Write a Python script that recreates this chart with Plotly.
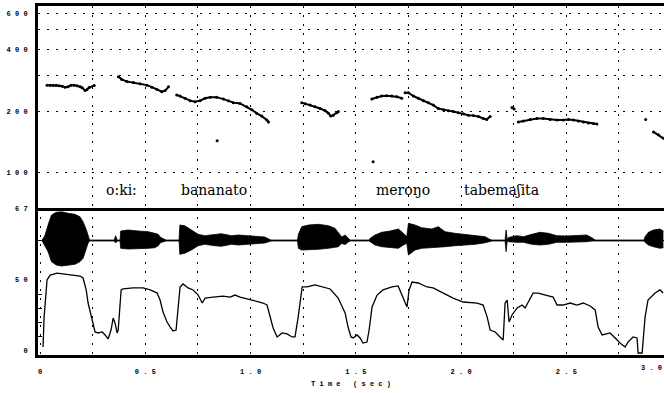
import plotly.graph_objects as go

# ---- Pitch track (F0, Hz) : voiced stretches separated by None ----
pitch_time = [
    0.033, 0.048, 0.062, 0.076, 0.090, 0.105, 0.119, 0.133, 0.147, 0.162,
    0.176, 0.190, 0.200, 0.214, 0.223, 0.233, 0.257, None,
    0.372, 0.388, 0.412, 0.443, 0.475, 0.507, 0.531, 0.554, 0.578, 0.594,
    0.610, None,
    0.649, 0.665, 0.689, 0.713, 0.736, 0.760, 0.784, 0.808, 0.839, 0.871,
    0.895, 0.918, 0.950, 0.982, 1.006, 1.029, 1.053, 1.077, 1.085, None,
    1.243, 1.259, 1.283, 1.306, 1.330, 1.354, 1.370, 1.381, 1.393, 1.410,
    1.417, None,
    1.576, 1.600, 1.623, 1.647, 1.671, 1.695, 1.718, None,
    1.734, 1.750, 1.773, 1.797, 1.821, 1.845, 1.868, 1.892, 1.916, 1.940,
    1.963, 1.987, 2.011, 2.035, 2.058, 2.082, 2.106, 2.122, 2.138, None,
    2.242, 2.252, None,
    2.272, 2.296, 2.328, 2.360, 2.391, 2.423, 2.455, 2.486, 2.510, 2.534,
    2.557, 2.581, 2.605, 2.629, 2.645, None,
    2.914, 2.937, 2.961,
]
pitch_hz = [
    268, 268, 268, 268, 266, 265, 262, 263, 268, 268,
    266, 263, 260, 252, 255, 261, 267, None,
    295, 286, 279, 276, 272, 268, 262, 256, 249, 252,
    263, None,
    240, 237, 231, 225, 222, 225, 231, 234, 234, 229,
    225, 220, 218, 210, 203, 195, 189, 181, 177, None,
    220, 217, 214, 210, 206, 201, 195, 189, 191, 196,
    199, None,
    229, 234, 237, 238, 237, 235, 231, None,
    246, 246, 237, 231, 225, 220, 214, 206, 203, 201,
    199, 196, 194, 191, 190, 188, 184, 182, 188, None,
    208, 205, None,
    177, 179, 182, 184, 184, 182, 181, 181, 182, 181,
    179, 177, 175, 174, 173, None,
    158, 153, 147,
]
# isolated pitch estimates
stray_time = [0.841, 1.582, 2.877]
stray_hz = [143, 113, 182]

# ---- Segment labels ----
word_labels = ["o:ki:", "bananato", "meroŋo", "tabemaʃita"]
word_times = [0.385, 0.827, 1.725, 2.19]

# ---- Waveform envelope (normalised amplitude) ----
wave_time = [
    0.010, 0.022, 0.038, 0.054, 0.077, 0.101, 0.133, 0.165, 0.189, 0.204,
    0.220, 0.228, 0.235, 0.352, 0.359, 0.366, 0.380, 0.383, 0.418, 0.466,
    0.513, 0.545, 0.561, 0.573, 0.592, 0.599, 0.660, 0.664, 0.687, 0.719,
    0.751, 0.782, 0.830, 0.861, 0.909, 0.941, 1.004, 1.067, 1.091, 1.097,
    1.223, 1.227, 1.243, 1.275, 1.322, 1.370, 1.401, 1.417, 1.433, 1.449,
    1.465, 1.473, 1.563, 1.568, 1.591, 1.623, 1.663, 1.702, 1.726, 1.742,
    1.750, 1.781, 1.813, 1.861, 1.892, 1.924, 1.971, 2.019, 2.067, 2.114,
    2.138, 2.147, 2.209, 2.214, 2.219, 2.225, 2.265, 2.296, 2.336, 2.375,
    2.415, 2.455, 2.502, 2.550, 2.597, 2.621, 2.637, 2.869, 2.874, 2.890,
    2.914, 2.945, 2.961,
]
wave_upper = [
    0.017, 0.155, 0.534, 0.879, 0.972, 0.993, 0.938, 0.903, 0.821, 0.648,
    0.362, 0.131, 0.017, 0.017, 0.166, 0.017, 0.017, 0.328, 0.362, 0.328,
    0.303, 0.248, 0.214, 0.103, 0.034, 0.017, 0.017, 0.534, 0.510, 0.362,
    0.214, 0.166, 0.214, 0.234, 0.166, 0.190, 0.155, 0.121, 0.034, 0.017,
    0.017, 0.214, 0.476, 0.534, 0.559, 0.510, 0.421, 0.248, 0.121, 0.190,
    0.052, 0.017, 0.017, 0.076, 0.190, 0.283, 0.328, 0.397, 0.248, 0.131,
    0.593, 0.534, 0.441, 0.397, 0.476, 0.303, 0.248, 0.214, 0.190, 0.131,
    0.034, 0.017, 0.017, 0.362, 0.017, 0.103, 0.166, 0.131, 0.214, 0.283,
    0.248, 0.166, 0.155, 0.166, 0.190, 0.097, 0.017, 0.017, 0.131, 0.283,
    0.362, 0.397, 0.328,
]
wave_lower = [
    -0.017, -0.155, -0.386, -0.731, -0.845, -0.879, -0.845, -0.821, -0.731, -0.614,
    -0.269, -0.086, -0.017, -0.017, -0.086, -0.017, -0.017, -0.269, -0.293, -0.293,
    -0.269, -0.248, -0.179, -0.069, -0.034, -0.017, -0.017, -0.476, -0.441, -0.328,
    -0.179, -0.131, -0.179, -0.200, -0.131, -0.155, -0.121, -0.086, -0.034, -0.017,
    -0.017, -0.269, -0.328, -0.328, -0.303, -0.269, -0.248, -0.214, -0.103, -0.138,
    -0.052, -0.017, -0.017, -0.041, -0.155, -0.214, -0.248, -0.269, -0.155, -0.097,
    -0.500, -0.328, -0.269, -0.248, -0.248, -0.214, -0.179, -0.155, -0.131, -0.076,
    -0.034, -0.017, -0.017, -0.386, -0.017, -0.041, -0.062, -0.062, -0.131, -0.155,
    -0.131, -0.062, -0.062, -0.062, -0.041, -0.017, -0.017, -0.017, -0.062, -0.155,
    -0.214, -0.269, -0.248,
]

# ---- Intensity contour (dB) ----
int_time = [
    0.014, 0.019, 0.033, 0.048, 0.081, 0.128, 0.190, 0.204, 0.219, 0.228,
    0.247, 0.261, 0.276, 0.295, 0.309, 0.323, 0.337, 0.347, 0.356, 0.366,
    0.371, 0.385, 0.394, 0.442, 0.489, 0.523, 0.556, 0.570, 0.584, 0.603,
    0.618, 0.632, 0.646, 0.656, 0.665, 0.679, 0.703, 0.727, 0.751, 0.770,
    0.784, 0.822, 0.869, 0.903, 0.926, 0.950, 0.988, 1.031, 1.059, 1.078,
    1.093, 1.107, 1.126, 1.150, 1.173, 1.197, 1.211, 1.226, 1.245, 1.268,
    1.306, 1.340, 1.378, 1.416, 1.449, 1.463, 1.477, 1.487, 1.506, 1.520,
    1.534, 1.553, 1.563, 1.577, 1.601, 1.629, 1.672, 1.701, 1.720, 1.734,
    1.743, 1.753, 1.767, 1.796, 1.838, 1.867, 1.914, 1.962, 2.010, 2.076,
    2.105, 2.124, 2.138, 2.162, 2.185, 2.200, 2.209, 2.219, 2.228, 2.242,
    2.266, 2.290, 2.304, 2.318, 2.342, 2.366, 2.409, 2.437, 2.456, 2.485,
    2.518, 2.551, 2.580, 2.613, 2.637, 2.651, 2.670, 2.708, 2.732, 2.755,
    2.779, 2.793, 2.817, 2.836, 2.841, 2.860, 2.874, 2.888, 2.922, 2.945,
    2.960,
]
int_db = [
    2.8, 23.9, 50.0, 53.5, 54.9, 54.2, 52.8, 51.4, 43.0, 33.8,
    21.8, 13.4, 12.7, 13.4, 11.3, 8.5, 14.8, 23.2, 19.7, 12.7,
    14.8, 43.0, 43.7, 44.4, 44.4, 43.0, 40.8, 35.9, 27.5, 20.4,
    16.9, 14.1, 14.8, 31.0, 45.1, 47.2, 44.4, 43.0, 39.4, 33.8,
    37.3, 38.0, 38.7, 38.0, 39.4, 38.0, 36.6, 35.2, 33.8, 32.4,
    23.9, 16.2, 9.9, 12.7, 12.0, 9.9, 9.9, 23.9, 45.1, 45.1,
    46.5, 45.1, 43.7, 37.3, 26.8, 16.9, 9.9, 9.2, 11.3, 9.2,
    5.6, 6.3, 14.8, 31.0, 39.4, 43.0, 45.1, 45.8, 39.4, 33.8,
    31.0, 43.0, 48.6, 47.9, 45.1, 44.4, 40.8, 37.3, 34.5, 33.8,
    32.4, 23.9, 14.8, 13.4, 9.9, 7.7, 33.8, 35.9, 20.4, 25.4,
    30.3, 32.4, 30.3, 33.8, 40.8, 40.8, 39.4, 38.0, 32.4, 32.4,
    33.8, 32.4, 33.8, 31.7, 28.9, 16.9, 11.3, 12.7, 9.2, 5.6,
    2.8, 6.3, 9.9, 9.2, -1.4, -1.4, 23.9, 35.9, 40.8, 43.0,
    40.8,
]

# ---- Axis ticks ----
grid_times = [0.25, 0.5, 0.75, 1.0, 1.25, 1.5, 1.75, 2.0, 2.25, 2.5, 2.75]
time_tickvals = [0, 0.25, 0.5, 0.75, 1.0, 1.25, 1.5, 1.75, 2.0, 2.25, 2.5, 2.75]
time_ticktext = ["0", "", "0 . 5", "", "1 . 0", "", "1 . 5", "", "2 . 0", "",
                 "2 . 5", ""]
hz_tickvals = [100, 200, 300, 400, 500, 600]
hz_ticktext = ["1 0 0", "2 0 0", "", "4 0 0", "", "6 0 0"]
db_tickvals = [0, 50, 100]
db_ticktext = ["0", "5 0", "6 7"]
db_minor = [10, 20, 30, 40]

TIME_RANGE = [-0.010, 2.964]
INK = "black"
tick_font = dict(family="Liberation Mono", size=7, color=INK, weight="bold")
word_font = dict(family="DejaVu Serif", size=14, color=INK)
GRID_DASH = "2px,7px"

fig = go.Figure()

# pitch contour
fig.add_trace(go.Scatter(
    x=pitch_time, y=pitch_hz, mode="lines+markers",
    line=dict(color=INK, width=2), marker=dict(color=INK, size=3),
    connectgaps=False, xaxis="x", yaxis="y", showlegend=False,
))
fig.add_trace(go.Scatter(
    x=stray_time, y=stray_hz, mode="markers",
    marker=dict(color=INK, size=3), xaxis="x", yaxis="y", showlegend=False,
))

# intensity contour
fig.add_trace(go.Scatter(
    x=int_time, y=int_db, mode="lines",
    line=dict(color=INK, width=1.3), xaxis="x2", yaxis="y2", showlegend=False,
))

# waveform envelope (filled), on its own amplitude scale
fig.add_trace(go.Scatter(
    x=wave_time, y=wave_lower, mode="lines",
    line=dict(color=INK, width=0.8), xaxis="x2", yaxis="y3", showlegend=False,
))
fig.add_trace(go.Scatter(
    x=wave_time, y=wave_upper, mode="lines", fill="tonexty", fillcolor=INK,
    line=dict(color=INK, width=0.8), xaxis="x2", yaxis="y3", showlegend=False,
))

# word labels above the waveform
for txt, t in zip(word_labels, word_times):
    fig.add_annotation(
        x=t, y=1.914, xref="x", yref="y", text=txt, showarrow=False,
        font=word_font, xanchor="center", yanchor="middle",
    )

# last time label (3.0 s), right at the edge of the plotted range
fig.add_annotation(
    x=1.0, y=-0.037, xref="paper", yref="paper", text="3 . 0", showarrow=False,
    font=tick_font, xanchor="right", yanchor="middle",
)

split = 0.4212
grid_style = dict(showgrid=True, gridcolor=INK, gridwidth=1.2, griddash=GRID_DASH)

fig.update_layout(
    width=664, height=393,
    margin=dict(l=38, r=0, t=6, b=38),
    paper_bgcolor="white", plot_bgcolor="white",
    xaxis=dict(
        domain=[0, 1], anchor="y", range=TIME_RANGE,
        tickmode="array", tickvals=grid_times, showticklabels=False, ticks="",
        zeroline=False, showline=True, mirror=True, linecolor=INK, linewidth=2.5,
        **grid_style,
    ),
    yaxis=dict(
        domain=[split, 1], anchor="x", type="log", range=[1.826, 2.816],
        tickmode="array", tickvals=hz_tickvals, ticktext=hz_ticktext,
        tickfont=tick_font, ticks="", ticklabelstandoff=6,
        zeroline=False, showline=True, linecolor=INK, linewidth=3,
        **grid_style,
    ),
    xaxis2=dict(
        domain=[0, 1], anchor="y2", range=TIME_RANGE,
        tickmode="array", tickvals=time_tickvals, ticktext=time_ticktext,
        tickfont=tick_font, ticks="", ticklabelstandoff=8,
        zeroline=False, showline=True, linecolor=INK, linewidth=3,
        title=dict(text="T i m e   ( s e c )", font=tick_font, standoff=6),
        **grid_style,
    ),
    yaxis2=dict(
        domain=[0, split], anchor="x2", range=[-2.8, 100.7],
        tickmode="array", tickvals=db_tickvals, ticktext=db_ticktext,
        tickfont=tick_font, ticks="", ticklabelstandoff=6,
        showgrid=False, zeroline=False, showline=True, linecolor=INK, linewidth=3,
        minor=dict(tickmode="array", tickvals=db_minor, ticks="inside",
                   ticklen=4, tickwidth=1.2, tickcolor=INK, showgrid=False),
    ),
    yaxis3=dict(
        overlaying="y2", anchor="x2", range=[-3.948, 1.121],
        showticklabels=False, ticks="", showgrid=False, showline=False,
        zeroline=True, zerolinecolor=INK, zerolinewidth=1.2,
    ),
)

fig.write_html("out.html")
